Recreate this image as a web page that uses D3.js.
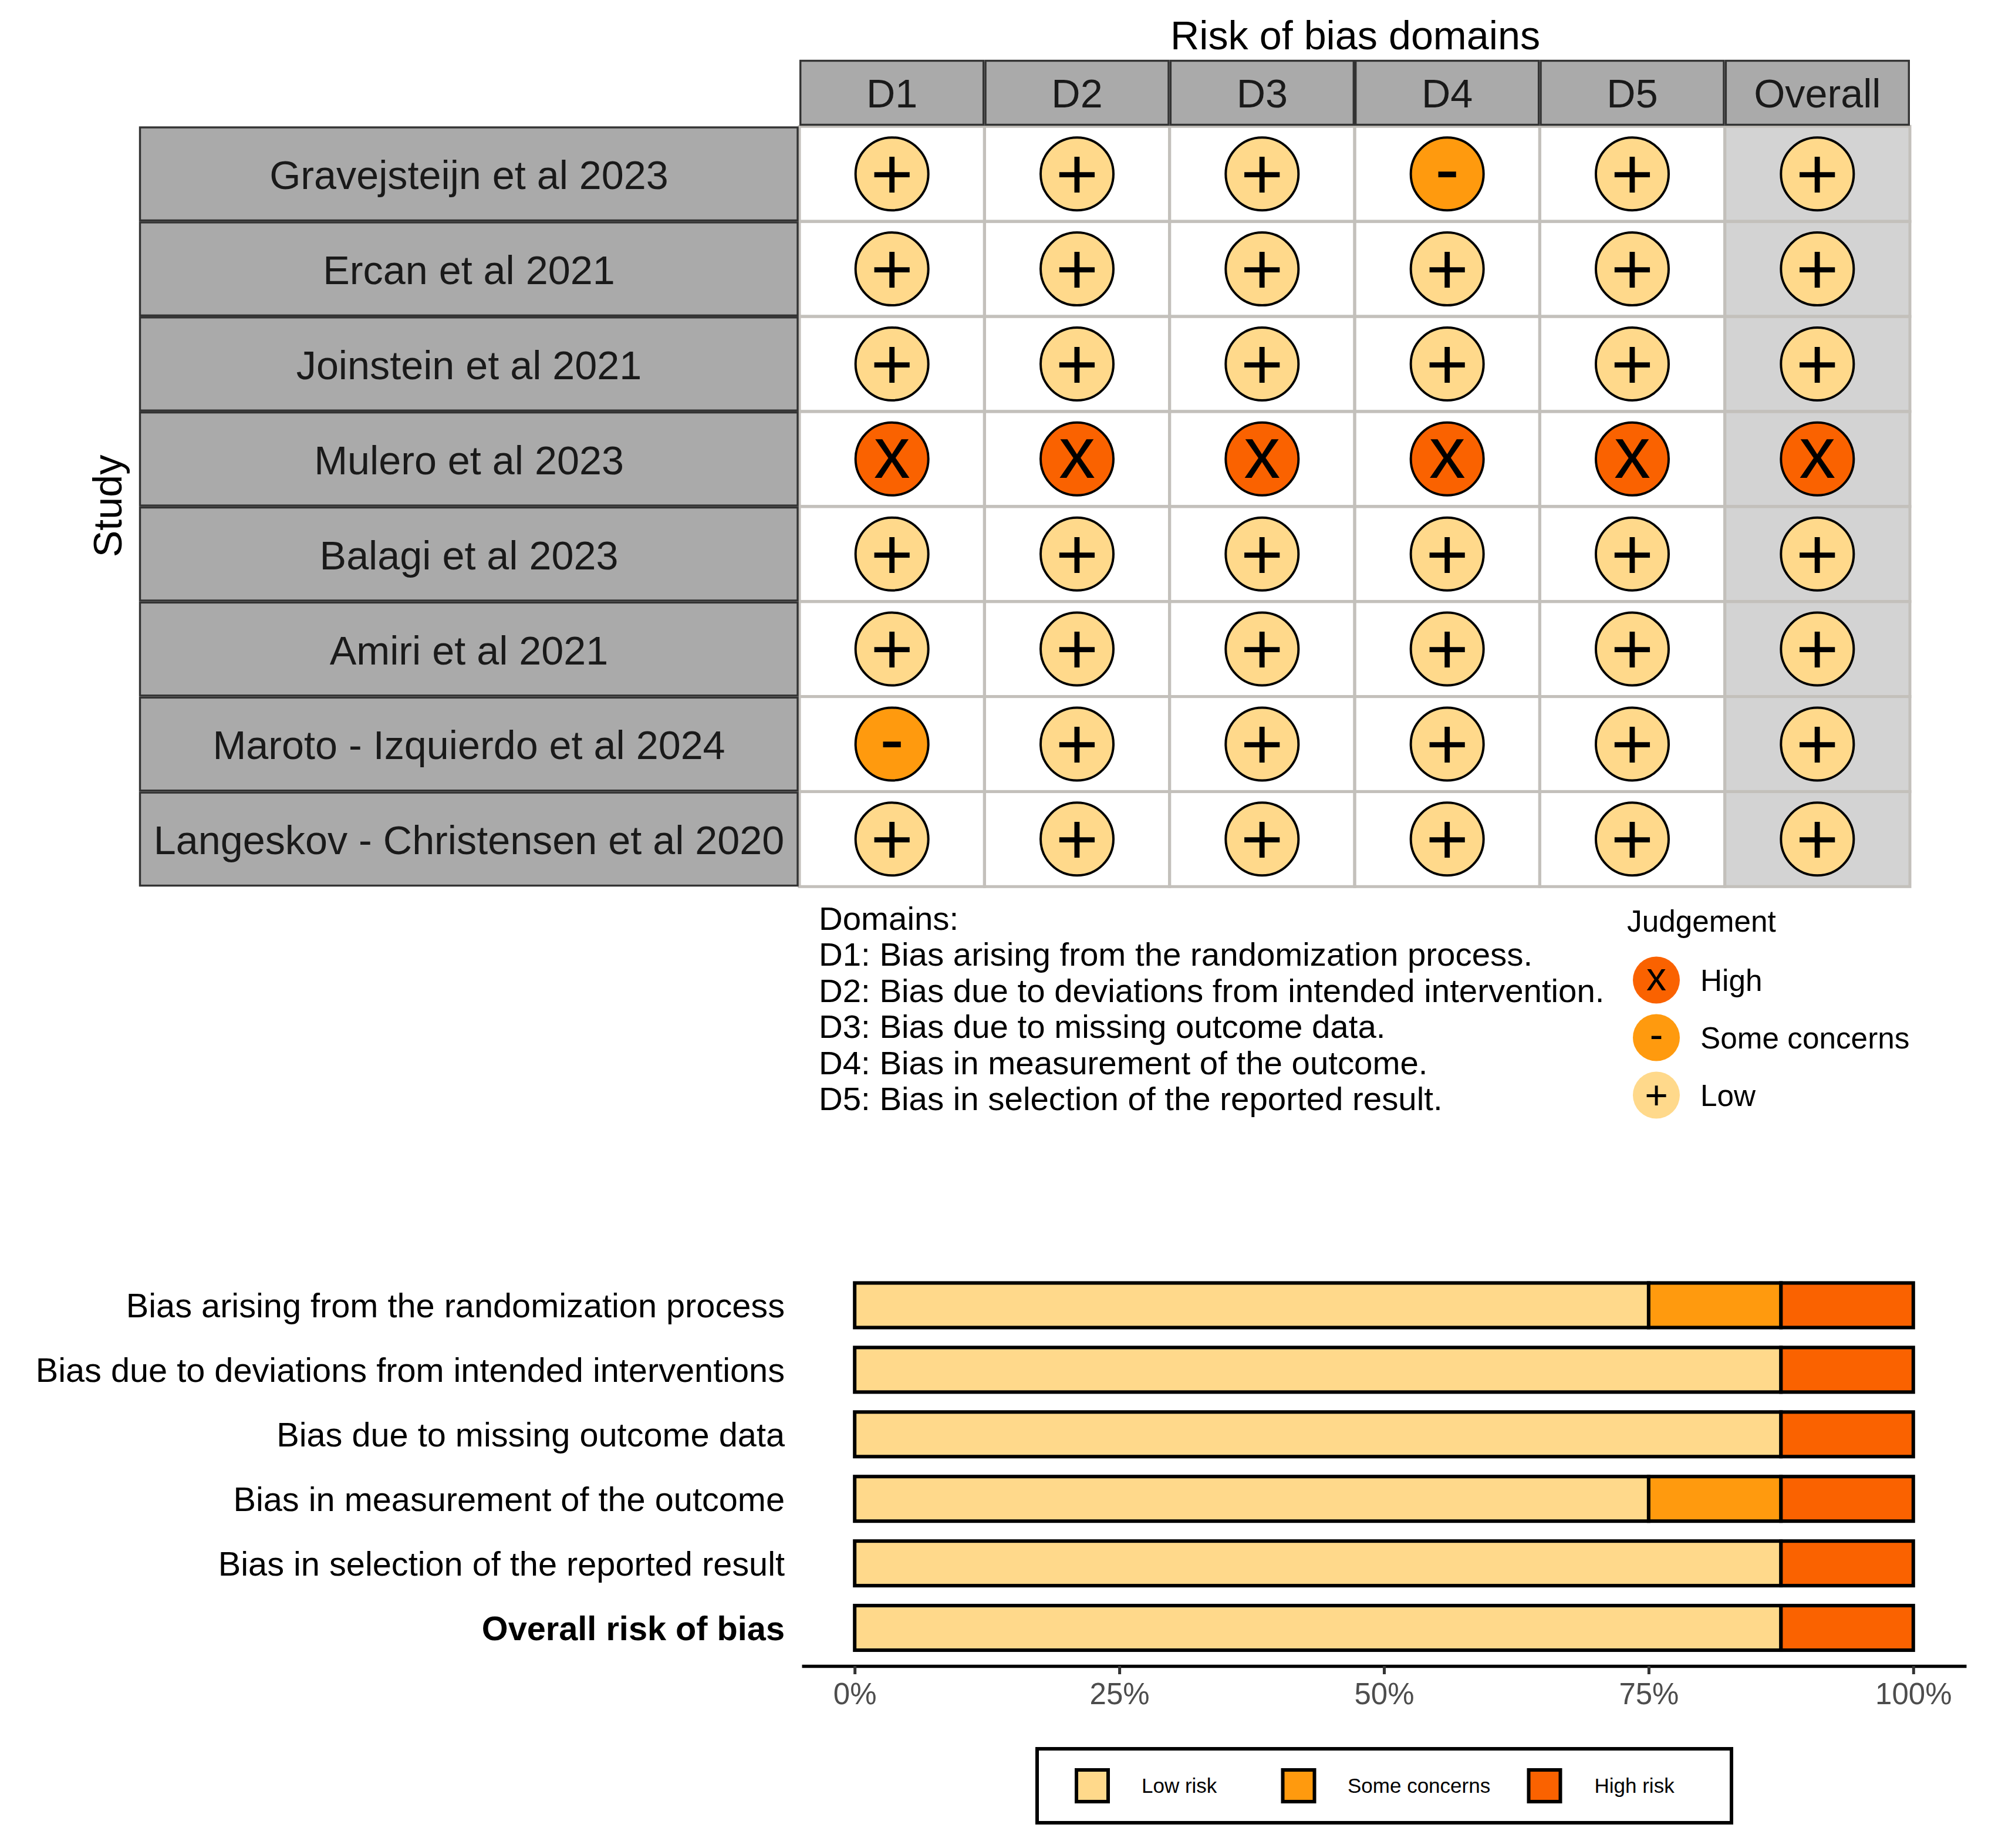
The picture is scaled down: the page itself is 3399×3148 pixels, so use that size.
<!DOCTYPE html>
<html><head><meta charset="utf-8">
<script src="https://d3js.org/d3.v7.min.js"></script>
<style>html,body{margin:0;padding:0;background:#fff}svg{display:block}text{font-family:"Liberation Sans",Arial,sans-serif}</style>
</head><body><svg id="c" width="3399" height="3148"></svg>
<script>
const studies = ["Gravejsteijn et al 2023","Ercan et al 2021","Joinstein et al 2021","Mulero et al 2023","Balagi et al 2023","Amiri et al 2021","Maroto - Izquierdo et al 2024","Langeskov - Christensen et al 2020"];
const domains = ["D1","D2","D3","D4","D5","Overall"];
const judgements = [
 ["+","+","+","-","+","+"],
 ["+","+","+","+","+","+"],
 ["+","+","+","+","+","+"],
 ["x","x","x","x","x","x"],
 ["+","+","+","+","+","+"],
 ["+","+","+","+","+","+"],
 ["-","+","+","+","+","+"],
 ["+","+","+","+","+","+"]
];
const domainNotes = ["Domains:","D1: Bias arising from the randomization process.","D2: Bias due to deviations from intended intervention.","D3: Bias due to missing outcome data.","D4: Bias in measurement of the outcome.","D5: Bias in selection of the reported result."];
const judgeLegend = [["x","High"],["-","Some concerns"],["+","Low"]];
const barLabels = ["Bias arising from the randomization process","Bias due to deviations from intended interventions","Bias due to missing outcome data","Bias in measurement of the outcome","Bias in selection of the reported result","Overall risk of bias"];
const lowRisk  = [75,87.5,87.5,75,87.5,87.5];
const someRisk = [12.5,0,0,12.5,0,0];
const highRisk = [12.5,12.5,12.5,12.5,12.5,12.5];
const xTicks = [0,25,50,75,100];
const riskLegend = ["Low risk","Some concerns","High risk"];

const LOW="#FFD98B", SOME="#FF9A0E", HIGH="#FA6200";
const fillOf = {"+":LOW,"-":SOME,"x":HIGH};
const dyOf = {"+":0.345,"-":0.27,"x":0.26};
const svg = d3.select("#c");
const T=(g,x,y,s,size,opt={})=>g.append("text").attr("x",x).attr("y",y).attr("font-size",size)
  .attr("text-anchor",opt.a||"start").attr("fill",opt.c||"#000").attr("font-weight",opt.w||null)
  .attr("transform",opt.t||null).text(s);

/* traffic light */
const X = d3.scaleBand().domain(domains).range([1362,3254]);
const Y = d3.scaleBand().domain(studies).range([215.3,1510.3]);
const tl = svg.append("g");
domains.forEach(d=>{
  if(d==="Overall") tl.append("rect").attr("x",X(d)).attr("y",215.3).attr("width",X.bandwidth()).attr("height",1295).attr("fill","#D3D3D3");
});
studies.forEach(s=>domains.forEach(d=>{
  tl.append("rect").attr("x",X(d)).attr("y",Y(s)).attr("width",X.bandwidth()).attr("height",Y.bandwidth())
    .attr("fill","none").attr("stroke","#C3C0BB").attr("stroke-width",5);
}));
/* strips */
domains.forEach(d=>{
  tl.append("rect").attr("x",X(d)+1.7).attr("y",103.5).attr("width",X.bandwidth()-3.4).attr("height",109)
    .attr("fill","#AAAAAA").attr("stroke","#333").attr("stroke-width",3.4);
  T(tl,X(d)+X.bandwidth()/2,183,d,68.3,{a:"middle",c:"#1a1a1a"});
});
studies.forEach(s=>{
  tl.append("rect").attr("x",238.5).attr("y",Y(s)+1.7).attr("width",1120.5).attr("height",Y.bandwidth()-3.4)
    .attr("fill","#AAAAAA").attr("stroke","#333").attr("stroke-width",3.4);
  T(tl,799,Y(s)+Y.bandwidth()/2+26,s,68.3,{a:"middle",c:"#1a1a1a"});
});
studies.forEach((s,i)=>domains.forEach((d,j)=>{
  const v=judgements[i][j], cx=X(d)+X.bandwidth()/2, cy=Y(s)+Y.bandwidth()/2;
  tl.append("circle").attr("cx",cx).attr("cy",cy).attr("r",62).attr("fill",fillOf[v]).attr("stroke","#000").attr("stroke-width",4);
  T(tl,cx,cy+dyOf[v]*124,v,124,{a:"middle"});
}));
T(svg,2309,84,"Risk of bias domains",68.3,{a:"middle"});
T(svg,0,0,"Study",68.3,{a:"middle",t:"translate(207,862) rotate(-90)"});
domainNotes.forEach((t,i)=>T(svg,1395,1584+i*61.4,t,56.4));
T(svg,2772,1586.5,"Judgement",51.3);
judgeLegend.forEach(([v,l],i)=>{
  const cy=1669.5+i*98;
  svg.append("circle").attr("cx",2822).attr("cy",cy).attr("r",40).attr("fill",fillOf[v]);
  T(svg,2822,cy+dyOf[v]*68,v,68,{a:"middle"});
  T(svg,2897,cy+18.5,l,51.3);
});

/* summary bars */
const x = d3.scaleLinear().domain([-5,105]).range([1366,3350]);
const y = d3.scaleBand().domain(barLabels).range([2168.5,2828]).paddingInner(0.309).paddingOuter(0.1545);
const bot = svg.append("g");
const stack = barLabels.map((l,i)=>({l,parts:[[lowRisk[i],LOW],[someRisk[i],SOME],[highRisk[i],HIGH]]}));
stack.forEach(b=>{
  let acc=0;
  b.parts.forEach(([v,c])=>{
    if(v>0) bot.append("rect").attr("x",x(acc)).attr("y",y(b.l)).attr("width",x(acc+v)-x(acc)).attr("height",y.bandwidth())
      .attr("fill",c).attr("stroke","#000").attr("stroke-width",6);
    acc+=v;
  });
  const mid=y(b.l)+y.bandwidth()/2;
  T(bot,1337,mid+21,b.l,57.7,{a:"end",w:b.l==="Overall risk of bias"?"bold":null});
});
const axis = d3.axisBottom(x).tickValues(xTicks).tickFormat(d=>d+"%").tickSize(14).tickSizeOuter(0).tickPadding(0);
const ag = svg.append("g").attr("transform","translate(0,2838)").call(axis);
ag.select(".domain").attr("stroke","#000").attr("stroke-width",5.5);
ag.selectAll(".tick line").attr("stroke","#333").attr("stroke-width",5);
ag.selectAll(".tick text").attr("font-size",51).attr("font-family","Liberation Sans").attr("fill","#4d4d4d").attr("dy",0).attr("y",65);

/* bar legend */
svg.append("rect").attr("x",1767).attr("y",2979).attr("width",1183).attr("height",126).attr("fill","#fff").attr("stroke","#000").attr("stroke-width",6);
const keyX=[1834,2185.5,2604.5], labX=[1945,2296,2716.5], keyFill=[LOW,SOME,HIGH];
riskLegend.forEach((l,i)=>{
  svg.append("rect").attr("x",keyX[i]).attr("y",3015).attr("width",54).attr("height",54).attr("fill",keyFill[i]).attr("stroke","#000").attr("stroke-width",6);
  T(svg,labX[i],3054,l,35);
});
</script></body></html>
